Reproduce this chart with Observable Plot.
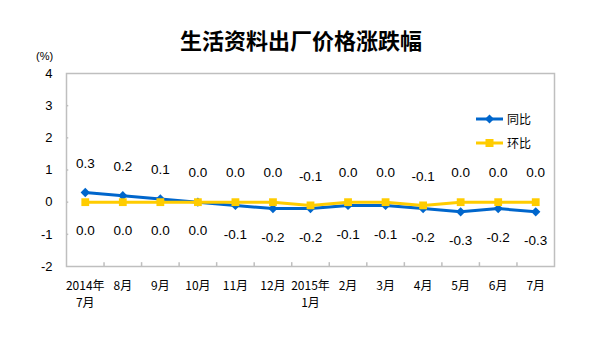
<!DOCTYPE html>
<html>
<head>
<meta charset="utf-8">
<script src="https://cdn.jsdelivr.net/npm/d3@7"></script>
<script src="https://cdn.jsdelivr.net/npm/@observablehq/plot@0.6"></script>
<style>
  html, body { margin: 0; padding: 0; background: #fff; }
  #wrap { position: relative; width: 602px; height: 362px; overflow: hidden; }
  #title { position: absolute; left: 0; top: 26px; width: 602px; text-align: center; z-index: 2;
           font-family: "Noto Sans CJK SC", sans-serif; font-weight: bold; font-size: 22px; line-height: 26px; color: #000; }
  #unit { position: absolute; left: 36px; top: 49px; z-index: 2; font-family: "Liberation Sans", Arial, sans-serif; font-size: 11px; line-height: 14px; }
  #chart { position: absolute; left: 0; top: 50px; z-index: 1; }
  #legend { position: absolute; left: 0; top: 0; z-index: 2; }
  .leg { position: absolute; left: 476px; display: flex; align-items: center; white-space: nowrap;
         font-family: "Noto Sans CJK SC", sans-serif; font-size: 12px; line-height: 14px; }
  .leg svg { margin-right: 3px; }
</style>
</head>
<body>
<div id="wrap">
  <div id="chart"></div>
  <div id="title"></div>
  <div id="unit">(%)</div>
  <div id="legend"></div>
</div>
<script>
const chartTitle = "生活资料出厂价格涨跌幅";
const categories = ["2014年\n7月", "8月", "9月", "10月", "11月", "12月", "2015年\n1月", "2月", "3月", "4月", "5月", "6月", "7月"];
const seriesNames = ["同比", "环比"];
const yoy = [0.3, 0.2, 0.1, 0.0, -0.1, -0.2, -0.2, -0.1, -0.1, -0.2, -0.3, -0.2, -0.3];
const mom = [0.0, 0.0, 0.0, 0.0, 0.0, 0.0, -0.1, 0.0, 0.0, -0.1, 0.0, 0.0, 0.0];
const yTicks = [-2, -1, 0, 1, 2, 3, 4];
const colors = ["#0066cc", "#ffcc00"];

document.getElementById("title").textContent = chartTitle;

const rows = categories.map((c, i) => ({
  i, c, yoy: yoy[i], mom: mom[i],
  hi: Math.max(yoy[i], mom[i]), lo: Math.min(yoy[i], mom[i]),
  hiText: (yoy[i] >= mom[i] ? yoy[i] : mom[i]).toFixed(1),
  loText: (yoy[i] >= mom[i] ? mom[i] : yoy[i]).toFixed(1)
}));
const boundaries = d3.range(categories.length - 1).map(i => i + 0.5);
const innerY = yTicks.slice(1, -1);

const numFont = "Liberation Sans, Arial, sans-serif";
const cjkFont = "Noto Sans CJK SC, sans-serif";

const plot = Plot.plot({
  width: 602,
  height: 312,
  marginTop: 23,
  marginBottom: 96,
  marginLeft: 66,
  marginRight: 48,
  style: { background: "transparent", color: "#000" },
  x: { domain: [-0.5, categories.length - 0.5] },
  y: { domain: [-2, 4] },
  marks: [
    Plot.frame({ stroke: "#bfbfbf", strokeWidth: 1.5 }),
    Plot.ruleX(boundaries, { x: d => d, y1: -2, y2: -1.88, stroke: "#bfbfbf", strokeWidth: 1.5 }),
    Plot.ruleY(innerY, { y: d => d, x1: -0.5, x2: -0.44, stroke: "#bfbfbf", strokeWidth: 1.5 }),
    Plot.axisX({ ticks: d3.range(categories.length), tickFormat: i => categories[i], tickSize: 0, tickPadding: 11,
                 fontSize: 12, fontFamily: cjkFont, lineHeight: 1.45, label: null }),
    Plot.axisY({ ticks: yTicks, tickFormat: d => String(d), tickSize: 0, tickPadding: 14,
                 fontSize: 13, fontFamily: numFont, label: null }),
    Plot.line(rows, { x: "i", y: "yoy", stroke: colors[0], strokeWidth: 3 }),
    Plot.dot(rows, { x: "i", y: "yoy", symbol: "diamond2", r: 4.2, fill: colors[0], stroke: "none" }),
    Plot.line(rows, { x: "i", y: "mom", stroke: colors[1], strokeWidth: 3 }),
    Plot.dot(rows, { x: "i", y: "mom", symbol: "square", r: 4.4, fill: colors[1], stroke: "none" }),
    Plot.text(rows, { x: "i", y: "hi", text: "hiText", dy: -29, fontSize: 13.5, fontFamily: numFont, fill: "#000" }),
    Plot.text(rows, { x: "i", y: "lo", text: "loText", dy: 29, fontSize: 13.5, fontFamily: numFont, fill: "#000" })
  ]
});
document.getElementById("chart").appendChild(plot);

// legend
const legend = document.getElementById("legend");
const legTops = [112, 136];
seriesNames.forEach((name, k) => {
  const div = document.createElement("div");
  div.className = "leg";
  div.style.top = legTops[k] + "px";
  const marker = k === 0
    ? `<path d="M13.5,9.5 L18,14 L13.5,18.5 L9,14 Z" fill="${colors[0]}"/>`
    : `<rect x="9.5" y="10" width="8" height="8" fill="${colors[1]}"/>`;
  div.innerHTML = `<svg width="28" height="14" viewBox="0 7 28 14"><line x1="0" y1="14" x2="27" y2="14" stroke="${colors[k]}" stroke-width="3"/>${marker}</svg><span>${name}</span>`;
  legend.appendChild(div);
});
</script>
</body>
</html>
